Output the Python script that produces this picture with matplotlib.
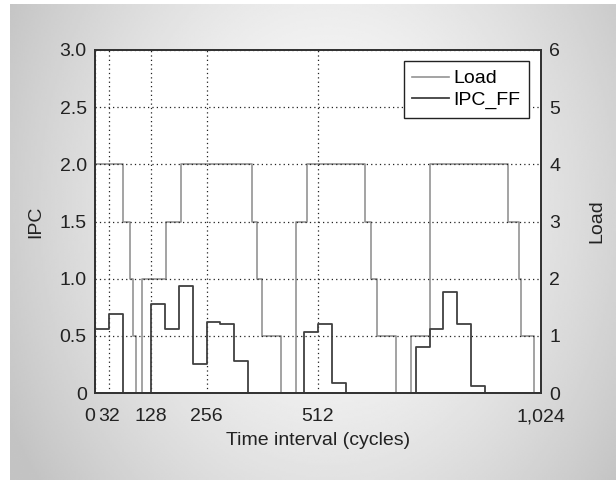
import numpy as np
import matplotlib
matplotlib.use("Agg")
import matplotlib.pyplot as plt

plt.rcParams['font.family'] = ['Liberation Sans', 'DejaVu Sans']

# Load: step edges (cycles) and level on each step
load_edges = [0, 65, 80, 88, 93, 107, 163, 197, 360, 371, 383, 428, 461, 487,
              621, 634, 647, 691, 725, 768, 949, 973, 977, 1009, 1024]
load_vals = [4, 3, 2, 1, 0, 2, 3, 4, 3, 2, 1, 0, 3, 4,
             3, 2, 1, 0, 1, 4, 3, 2, 1, 0]

# IPC_FF: one value per 32-cycle interval
ipc_edges = list(range(0, 1024 + 1, 32))
ipc_vals = [0.56, 0.69, 0, 0, 0.78, 0.56, 0.94, 0.25,
            0.62, 0.60, 0.28, 0, 0, 0, 0, 0.53,
            0.60, 0.09, 0, 0, 0, 0, 0, 0.40,
            0.56, 0.88, 0.60, 0.06, 0, 0, 0, 0]

xticks = [0, 32, 128, 256, 512, 1024]
xticklabels = ['0', '32', '128', '256', '512', '1,024']
yticks = [0, 0.5, 1.0, 1.5, 2.0, 2.5, 3.0]
yticklabels = ['0', '0.5', '1.0', '1.5', '2.0', '2.5', '3.0']
y2ticks = [0, 1, 2, 3, 4, 5, 6]

FS = 14
TXT = '#222222'

fig = plt.figure(figsize=(6.16, 4.8), dpi=100)
fig.patch.set_facecolor('white')

# gray gradient panel behind the chart
bg = fig.add_axes([10 / 616, 0, 606 / 616, 476 / 480], zorder=-10)
gx, gy = np.meshgrid(np.linspace(-1, 1, 300), np.linspace(-1, 1, 240))
r = np.sqrt(((gx - 0.05) / 1.0) ** 2 + ((gy + 0.15) / 1.6) ** 2)
shade = 0.99 - 0.17 * np.clip(r, 0, 1.2) ** 1.5
bg.imshow(shade, cmap='gray', vmin=0, vmax=1, aspect='auto',
          extent=[0, 1, 0, 1], interpolation='bilinear')
bg.axis('off')

ax = fig.add_axes([95 / 616, 87 / 480, 446 / 616, 343 / 480])
ax2 = ax.twinx()
ax.set_zorder(ax2.get_zorder() + 1)
ax.patch.set_visible(False)
ax2.patch.set_visible(True)
ax2.patch.set_facecolor('white')

l_load, = ax2.step(load_edges, load_vals + [load_vals[-1]], where='post',
                   color='#949494', lw=1.2, label='Load')
l_ipc, = ax.step(ipc_edges, ipc_vals + [ipc_vals[-1]], where='post',
                 color='#404040', lw=1.3, label='IPC_FF')

ax.set_xlim(0, 1024)
ax.set_ylim(0, 3)
ax2.set_ylim(0, 6)
ax.set_xticks(xticks)
ax.set_xticklabels(xticklabels)
ax.set_yticks(yticks)
ax.set_yticklabels(yticklabels)
ax2.set_yticks(y2ticks)

ax.grid(True, linestyle=(0, (1, 2.5)), color='#222222', lw=0.9)

for a in (ax, ax2):
    a.tick_params(direction='in', length=0, labelsize=FS, colors=TXT, pad=6)
    for s in a.spines.values():
        s.set_color('#333333')
        s.set_linewidth(1.3)
ax.tick_params(axis='x', pad=11)
ax.get_xticklabels()[0].set_ha('right')

ax.set_xlabel('Time interval (cycles)', fontsize=FS, color=TXT, labelpad=5)
ax.set_ylabel('IPC', fontsize=FS, color=TXT, labelpad=11)
ax2.set_ylabel('Load', fontsize=FS, color=TXT, labelpad=20)

leg = ax.legend(handles=[l_load, l_ipc], loc='upper right',
                bbox_to_anchor=(1 - 12 / 446, 1 - 11 / 343), borderaxespad=0,
                fontsize=FS, handlelength=1.9, handletextpad=0.2,
                fancybox=False, framealpha=1, edgecolor='#222222',
                borderpad=0.45, labelspacing=0.2)
leg.get_frame().set_linewidth(1.0)

fig.savefig('out.png', dpi=100)
